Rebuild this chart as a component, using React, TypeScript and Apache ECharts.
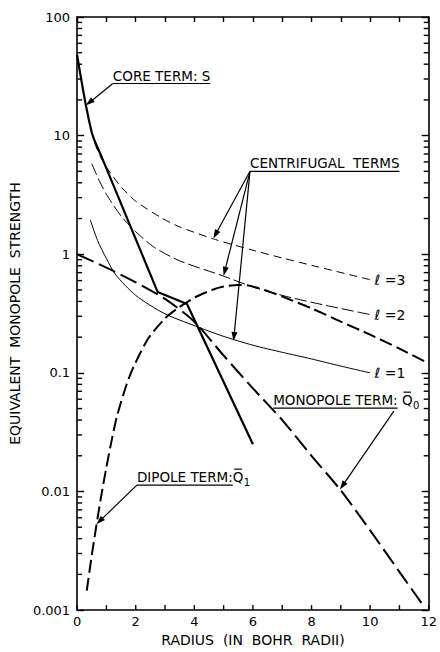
import React, { useEffect, useRef } from 'react';
import * as echarts from 'echarts';

// ---- axis ticks ----
const xTickLabels = [0, 2, 4, 6, 8, 10, 12];
const xTickMarks = [0, 1, 2, 3, 4, 5, 6, 7, 8, 9, 10, 11, 12];
const yTickLabels = ['0.001', '0.01', '0.1', '1', '10', '100'];
const minorMultipliers = [2, 3, 4, 5, 6, 7, 8, 9];

// ---- series data (radius in Bohr radii, equivalent monopole strength) ----
const coreX = [0, 0.1, 0.2, 0.3, 0.4, 0.5, 0.6, 0.7, 0.85, 1.0, 2.75, 3.75, 6.0];
const coreY = [48, 34, 24.5, 18, 13.6, 10.6, 9.0, 7.9, 6.5, 5.3, 0.48, 0.38, 0.025];

const l3X = [0.6, 0.8, 1, 1.5, 2, 2.87, 3.5, 4.72, 6, 7, 8.24, 10];
const l3Y = [8.6, 6.6, 5.4, 3.7, 2.8, 2.03, 1.7, 1.33, 1.08, 0.93, 0.78, 0.61];

const l2X = [0.5, 0.75, 1, 1.5, 2, 2.64, 3.5, 4.95, 6, 7.15, 8.5, 10];
const l2Y = [5.8, 4.2, 3.2, 2.1, 1.55, 1.14, 0.88, 0.66, 0.53, 0.44, 0.37, 0.31];

const l1X = [0.45, 0.7, 1, 1.32, 2, 2.97, 4, 4.95, 6, 7, 8, 9, 10];
const l1Y = [1.95, 1.3, 0.92, 0.67, 0.45, 0.317, 0.25, 0.205, 0.171, 0.149, 0.131, 0.114, 0.1];

const monoX = [0, 1, 2, 3, 4, 5, 6, 7, 8, 9, 10, 11, 11.75];
const monoY = [1, 0.77, 0.58, 0.42, 0.27, 0.14, 0.074, 0.04, 0.02, 0.0102, 0.0047, 0.0021, 0.00115];

const dipX = [0.33, 0.5, 0.66, 0.8, 0.99, 1.2, 1.38, 1.8, 2.4, 3.0, 3.4, 4.0, 4.6, 5.0, 5.5, 5.8, 6.4, 7.0, 8, 9, 10, 11, 12];
const dipY = [0.00146, 0.0029, 0.0052, 0.0085, 0.0156, 0.0286, 0.045, 0.095, 0.19, 0.288, 0.346, 0.43, 0.5, 0.535, 0.551, 0.547, 0.5, 0.44, 0.35, 0.27, 0.21, 0.16, 0.12];

// ---- annotation anchors (data coordinates) ----
const coreLabelAt = [1.22, 27.5];
const coreTip = [0.3, 18];
const centLabelAt = [5.9, 5.0];
const centTips = [[4.65, 1.36], [5.0, 0.66], [5.34, 0.186]];
const lLabels = ['ℓ =3', 'ℓ =2', 'ℓ =1'];
const lLabelAt = [[10.15, 0.61], [10.15, 0.31], [10.15, 0.1]];
const monoLabelAt = [6.69, 0.0504];
const monoArrowFrom = [10.81, 0.0475];
const monoTip = [8.97, 0.0104];
const dipLabelAt = [2.04, 0.0113];
const dipTip = [0.66, 0.0053];

const FONT = '"DejaVu Sans", "Liberation Sans", sans-serif';

const pairs = (xs: number[], ys: number[]) => xs.map((x, i) => [x, ys[i]]);

function minorTickValues() {
  const out: number[] = [];
  for (let e = -3; e < 2; e++) {
    for (const m of minorMultipliers) out.push(m * Math.pow(10, e));
  }
  return out;
}

export default function App() {
  const ref = useRef<HTMLDivElement>(null);

  useEffect(() => {
    if (!ref.current) return;
    const chart = echarts.init(ref.current, undefined, { renderer: 'svg' });

    const axisLine = () => ({ show: true, onZero: false, lineStyle: { color: '#000', width: 1.6 } });
    const tickStyle = { color: '#000', width: 1.4 };

    const lineSeries = (name: string, xs: number[], ys: number[], width: number, type: any, smooth: any = 0.25) => ({
      name,
      type: 'line',
      data: pairs(xs, ys),
      showSymbol: false,
      symbol: 'none',
      smooth,
      xAxisIndex: 0,
      yAxisIndex: 0,
      lineStyle: { color: '#000', width, type, cap: 'butt' },
      z: 3,
    });

    const option: any = {
      animation: false,
      backgroundColor: '#fff',
      textStyle: { fontFamily: FONT },
      grid: { left: 70, right: 6, top: 17, bottom: 34, containLabel: false },
      xAxis: [
        {
          type: 'value', min: 0, max: 12, interval: 1, position: 'bottom',
          axisLine: axisLine(),
          axisTick: { show: false },
          axisLabel: {
            show: true, margin: 5, color: '#000', fontSize: 13, fontFamily: FONT,
            formatter: (v: number) => (xTickLabels.includes(v) ? String(v) : ''),
          },
          splitLine: { show: false },
          name: 'RADIUS  (IN  BOHR  RADII)',
          nameLocation: 'middle',
          nameGap: 22,
          nameTextStyle: { color: '#000', fontSize: 14, fontFamily: FONT },
        },
        {
          type: 'value', min: 0, max: 12, interval: 1, position: 'top',
          axisLine: axisLine(),
          axisTick: { show: true, inside: true, length: 5, lineStyle: tickStyle },
          axisLabel: { show: false },
          splitLine: { show: false },
        },
      ],
      yAxis: [
        {
          type: 'log', logBase: 10, min: 0.001, max: 100, position: 'left',
          axisLine: axisLine(),
          axisTick: { show: true, inside: true, length: 7, lineStyle: tickStyle },
          axisLabel: {
            show: true, margin: 7, color: '#000', fontSize: 13, fontFamily: FONT,
            formatter: (v: number) =>
              yTickLabels.find((s) => Math.abs(Math.log10(parseFloat(s)) - Math.log10(v)) < 1e-6) ?? '',
          },
          splitLine: { show: false },
          minorTick: { show: false },
          name: 'EQUIVALENT  MONOPOLE  STRENGTH',
          nameLocation: 'middle',
          nameGap: 43,
          nameRotate: 90,
          nameTextStyle: { color: '#000', fontSize: 14, fontFamily: FONT },
        },
        {
          type: 'log', logBase: 10, min: 0.001, max: 100, position: 'right',
          axisLine: axisLine(),
          axisTick: { show: true, inside: true, length: 7, lineStyle: tickStyle },
          axisLabel: { show: false },
          splitLine: { show: false },
        },
      ],
      series: [
        lineSeries('S', coreX, coreY, 2.2, 'solid', false),
        lineSeries('l3', l3X, l3Y, 1, [8, 5]),
        lineSeries('l2', l2X, l2Y, 1, [12, 4]),
        lineSeries('l1', l1X, l1Y, 1, 'solid'),
        lineSeries('Q0', monoX, monoY, 2, [18, 6]),
        lineSeries('Q1', dipX, dipY, 2, [13, 5]),
      ],
    };

    chart.setOption(option);

    // ---- annotations & ticks drawn through the axis scales ----
    const px = (p: number[]) => chart.convertToPixel({ xAxisIndex: 0, yAxisIndex: 0 }, p) as number[];
    const ctx = document.createElement('canvas').getContext('2d')!;
    const tw = (t: string, size: number) => {
      ctx.font = `${size}px "DejaVu Sans"`;
      return ctx.measureText(t).width;
    };
    const FS = 13.5;
    const els: any[] = [];
    const stroke = { stroke: '#000', lineWidth: 1.2 };
    const text = (t: string, x: number, y: number, size = FS, align = 'left', va = 'middle') => {
      els.push({
        type: 'text',
        x, y,
        style: {
          text: t, fill: '#000', font: `${size}px ${FONT}`,
          align, verticalAlign: va, textAlign: align, textVerticalAlign: va,
        },
        z: 10,
      });
    };
    const line = (a: number[], b: number[], st: any = stroke) => {
      els.push({ type: 'line', shape: { x1: a[0], y1: a[1], x2: b[0], y2: b[1] }, style: st, z: 10 });
    };
    const arrow = (a: number[], b: number[], head = 9, hw = 3) => {
      const dx = b[0] - a[0], dy = b[1] - a[1];
      const L = Math.hypot(dx, dy);
      const ux = dx / L, uy = dy / L;
      const bx = b[0] - ux * head, by = b[1] - uy * head;
      line(a, [bx + ux * 2, by + uy * 2]);
      els.push({
        type: 'polygon',
        shape: { points: [[b[0], b[1]], [bx - uy * hw, by + ux * hw], [bx + uy * hw, by - ux * hw]] },
        style: { fill: '#000' },
        z: 10,
      });
    };

    const tickSt = { stroke: '#000', lineWidth: 1.4 };
    // log minor ticks on both vertical axes
    minorTickValues().forEach((v) => {
      const l = px([0, v]);
      const r = px([12, v]);
      line([l[0], l[1]], [l[0] + 5, l[1]], tickSt);
      line([r[0], r[1]], [r[0] - 5, r[1]], tickSt);
    });
    // bottom axis ticks (inward)
    xTickMarks.forEach((x) => {
      const b = px([x, 0.001]);
      line([b[0], b[1]], [b[0], b[1] - 5], tickSt);
    });

    const labelWithUnderline = (t: string, at: number[], underlineText?: string) => {
      const p = px(at);
      text(t, p[0], p[1] - 8);
      const w = tw(underlineText ?? t, FS);
      line([p[0], p[1]], [p[0] + w, p[1]]);
      return p;
    };

    const cp = labelWithUnderline('CORE TERM: S', coreLabelAt);
    arrow(cp, px(coreTip));

    const ctp = labelWithUnderline('CENTRIFUGAL  TERMS', centLabelAt);
    centTips.forEach((t) => arrow(ctp, px(t)));

    lLabels.forEach((t, i) => {
      const p = px(lLabelAt[i]);
      text(t, p[0], p[1], 14);
    });

    const qLabel = (prefix: string, sub: string, at: number[]) => {
      const p = labelWithUnderline(prefix + 'Q', at, prefix.trimEnd());
      const qx = p[0] + tw(prefix, FS);
      const qw = tw('Q', FS);
      line([qx + 1.5, p[1] - 16], [qx + qw - 1.5, p[1] - 16]);
      text(sub, qx + qw + 0.5, p[1] - 3, 10);
      return p;
    };
    qLabel('MONOPOLE TERM: ', '0', monoLabelAt);
    arrow(px(monoArrowFrom), px(monoTip));
    const dp = qLabel('DIPOLE TERM:', '1', dipLabelAt);
    arrow(dp, px(dipTip));

    chart.setOption({ graphic: { elements: els } });

    return () => chart.dispose();
  }, []);

  return (
    <div
      ref={ref}
      style={{ position: 'fixed', left: 0, top: 0, width: 440, height: 652, background: '#fff' }}
    />
  );
}
